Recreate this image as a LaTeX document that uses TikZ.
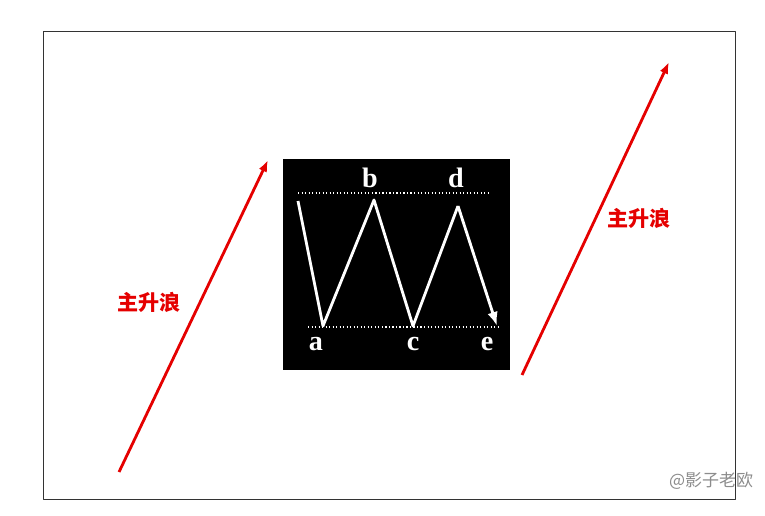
\documentclass[tikz,border=0pt]{standalone}
\usepackage{fontspec}
\newfontfamily\cjk{Noto Sans CJK SC}
\newfontfamily\ptfont{Liberation Serif}
\usepackage{tikz}
\usetikzlibrary{arrows.meta,positioning,calc}

\begin{document}
\begin{tikzpicture}[x=0.03cm, y=-0.03cm, line join=round,
  wave line/.style={draw=white, line width=2.4pt},
  level line/.style={draw=white, line width=1pt, dotted},
  trend arrow/.style={draw=red!90!black, line width=2.4pt, -{Latex[length=10pt,width=7.5pt]}},
  pt label/.style={text=white, font=\ptfont\bfseries\fontsize{24}{24}\selectfont, inner sep=0pt},
  trend label/.style={text=red!90!black, font=\cjk\bfseries\fontsize{18}{18}\selectfont, inner sep=0pt}]%
\useasboundingbox[fill=white] (0,0) rectangle (765,516);
\draw[black!80, line width=0.8pt] (43,31) rectangle (735,499);
\fill[black] (283,159) rectangle (510,370);
% zigzag points
\coordinate (w0) at (298,201);
\coordinate (wa) at (323,326);
\coordinate (wb) at (374,200);
\coordinate (wc) at (413,326);
\coordinate (wd) at (458,206);
\coordinate (we) at (497,326);
\coordinate (tl) at (298,193);
\coordinate (tr) at (491,193);
\coordinate (bl) at (308,327);
\coordinate (br) at (500,327);
\begin{scope}
\draw[level line] (tl) -- (tr);
\draw[level line] (bl) -- (br);
\draw[wave line] (w0) -- (wa) -- (wb) -- (wc) -- (wd);
\draw[wave line, -{Latex[length=12pt,width=9pt]}] (wd) -- (we);
\end{scope}
\begin{scope}[every node/.style={pt label}]
\node (la) at (316,344) {a};
\node (lb) at (370,178) {b};
\node (lc) at (413,344) {c};
\node (ld) at (456,178) {d};
\node (le) at (487,344) {e};
\end{scope}
% main trend
\coordinate (r1s) at (119,472);
\coordinate (r1e) at (268,160);
\coordinate (r2s) at (522,375);
\coordinate (r2e) at (669,62);
\draw[trend arrow] (r1s) -- (r1e);
\draw[trend arrow] (r2s) -- (r2e);
\node[trend label] (t1) at (149,302) {主升浪};
\node[trend label] (t2) at (639,218) {主升浪};
\node[text=black!45, font=\cjk\fontsize{14.5}{15}\selectfont, inner sep=0pt] (wm) at (711,481) {@影子老欧};
\end{tikzpicture}
\end{document}
